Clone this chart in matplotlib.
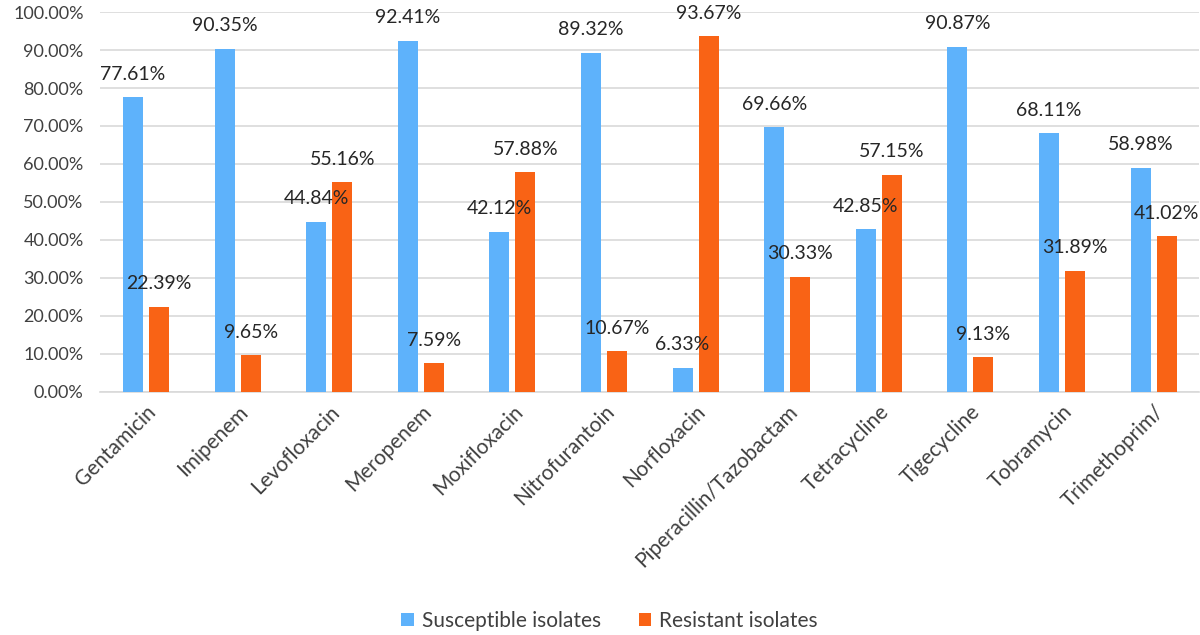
import matplotlib

matplotlib.use("Agg")
import matplotlib.pyplot as plt
import numpy as np

antibiotics = [
    "Gentamicin", "Imipenem", "Levofloxacin", "Meropenem", "Moxifloxacin",
    "Nitrofurantoin", "Norfloxacin", "Piperacillin/Tazobactam", "Tetracycline",
    "Tigecycline", "Tobramycin", "Trimethoprim/",
]
susceptible = [77.61, 90.35, 44.84, 92.41, 42.12, 89.32, 6.33, 69.66, 42.85, 90.87, 68.11, 58.98]
resistant = [22.39, 9.65, 55.16, 7.59, 57.88, 10.67, 93.67, 30.33, 57.15, 9.13, 31.89, 41.02]
y_ticks = list(range(0, 101, 10))

BLUE = "#5eb2fb"
ORANGE = "#f96315"
TEXT = "#404040"

plt.rcParams["font.family"] = ["Lato", "DejaVu Sans"]

fig = plt.figure(figsize=(12, 6.35), dpi=100)
ax = fig.add_axes([0.0835, 0.383, 0.916, 0.598])

x = np.arange(len(antibiotics))
width = 0.22
offset = 0.142
bars_s = ax.bar(x - offset, susceptible, width, color=BLUE, label="Susceptible isolates", zorder=3)
bars_r = ax.bar(x + offset, resistant, width, color=ORANGE, label="Resistant isolates", zorder=3)

for bars, vals in ((bars_s, susceptible), (bars_r, resistant)):
    for b, v in zip(bars, vals):
        ax.annotate(f"{v:.2f}%", (b.get_x() + b.get_width() / 2, v),
                    xytext=(0, 16.5), textcoords="offset points",
                    ha="center", va="center", fontsize=14, color="#262626", zorder=4)

ax.set_xlim(-0.5, len(antibiotics) - 0.5)
ax.set_ylim(0, 100)
ax.set_yticks(y_ticks)
ax.set_yticklabels([f"{t:.2f}%" for t in y_ticks], fontsize=13, color=TEXT)
ax.set_xticks(x)
ax.set_xticklabels(antibiotics, rotation=45, ha="right", rotation_mode="anchor",
                   fontsize=15, color=TEXT)
ax.tick_params(axis="both", length=0)
ax.tick_params(axis="y", pad=12)
ax.tick_params(axis="x", pad=7)
ax.grid(axis="y", color="#d9d9d9", linewidth=1.2, zorder=0)
for side in ("top", "right", "left"):
    ax.spines[side].set_visible(False)
ax.spines["bottom"].set_color("#d9d9d9")
ax.spines["bottom"].set_linewidth(1.2)

fig.legend(loc="center", bbox_to_anchor=(0.508, 0.022), ncol=2, frameon=False,
           fontsize=15, handlelength=0.6, handleheight=0.6, columnspacing=1.8,
           handletextpad=0.4, labelcolor=TEXT)

fig.savefig("out.png", dpi=100)
